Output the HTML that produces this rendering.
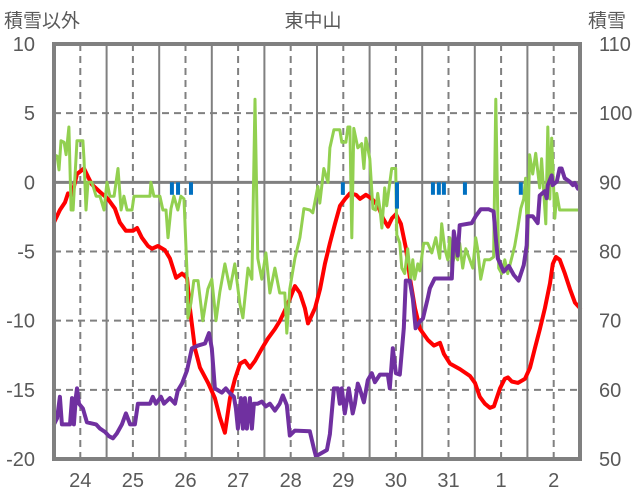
<!DOCTYPE html>
<html><head><meta charset="utf-8">
<style>
html,body{margin:0;padding:0;background:#fff;}
svg{display:block;font-family:"Liberation Sans","Noto Sans CJK JP",sans-serif;}
</style></head>
<body>
<svg id="chart" width="636" height="501" viewBox="0 0 636 501">
  <text x="4" y="27" font-size="19" fill="#595959">積雪以外</text>
  <text x="313" y="27" font-size="19" fill="#595959" text-anchor="middle">東中山</text>
  <text x="588" y="27" font-size="19" fill="#595959">積雪</text>
  <g id="grid"></g>
  <g id="series"></g>
  <g id="axes"></g>
</svg>
<script>
const dayLabels = ["24","25","26","27","28","29","30","31","1","2"];
const leftTicks = [10,5,0,-5,-10,-15,-20];
const rightTicks = [110,100,90,80,70,60,50];

const redHours = [0,2.7,5,6.4,8.2,10.5,13.7,15.5,17.3,21,24.6,27.8,30,32.8,36,37.9,40.1,42.9,44.7,47.4,50.6,52.9,55.7,58.4,60.7,62,64.3,66.6,70.3,73.4,75.7,78,80.3,82.6,84.9,87.1,89.4,91.7,94.9,97.6,100.8,103.1,105.8,107.7,109.9,112.2,114.5,115.9,119.1,121.4,123.6,125.9,128.2,130.5,132.8,135,137.8,139.6,142.3,145.1,147.8,150.1,152.4,154.2,156,158.3,160.6,162.4,164.7,167,170.6,173.4,176.1,177.9,180.7,185.2,189.8,192.1,194.3,196.6,198.9,200.7,203.5,205.7,207.1,208.9,211.7,214.9,217.2,219.4,221.7,224,226.3,227.6,229,230.8,233.1,235.4,237.7,240];
const redTemp = [-2.9,-2,-1.45,-0.8,-0.9,0.6,1.0,0.4,-0.15,-0.7,-1.2,-1.9,-2.9,-3.5,-3.5,-3.3,-4.0,-4.6,-4.8,-4.6,-4.9,-5.5,-6.9,-6.6,-6.9,-9.1,-12,-13.4,-14.5,-15.6,-17.0,-18.1,-15.6,-14.2,-13.1,-12.9,-13.4,-12.9,-12,-11.3,-10.6,-10,-9.1,-8.4,-7.5,-8.0,-9.1,-10.2,-9.1,-7.7,-5.9,-4.4,-3,-1.7,-1.2,-0.8,-0.9,-1.2,-0.9,-1.2,-1.7,-2.6,-3.2,-2.6,-2.3,-3.0,-4.8,-6.9,-9.1,-10.6,-11.4,-11.8,-11.6,-12.4,-13.1,-13.5,-14.0,-14.5,-15.5,-16,-16.3,-16.2,-14.9,-14.2,-14.1,-14.4,-14.5,-14.2,-13.4,-12,-10.6,-9.1,-7.3,-5.9,-5.4,-5.6,-6.6,-7.7,-8.7,-9.1];

const greenHours = [0,1.4,2.3,3.2,4.6,5.5,6.8,7.8,8.7,10.5,13.2,13.7,14.6,15.5,17.3,19.2,21,22.8,24.2,25.5,27.4,29.2,30.6,31.9,33.3,35.6,36.5,43.8,44.2,45.6,48.3,49.7,51.1,52,53.4,54.7,56.5,57.9,59.3,60.7,61.1,62.5,63.8,65.7,67.9,70.2,72,73.9,75.7,78,80.3,82.5,84.8,86.2,88.5,90.3,91.7,93,94.8,96.7,98.5,100.8,103,105.3,106.2,107.6,109.9,112.2,114,116.7,118.1,120.4,121.3,123.1,125,125.9,127.7,130.4,131.3,133.2,134.1,135,135.9,136.8,138.6,140.4,141.4,142.3,144.1,145.5,146.8,147.7,148.7,149.6,150.9,151.8,154.1,155.9,156.4,157.8,158.7,160,161.4,162.8,163.7,164.6,166,166.9,168.7,170.5,172.4,174.2,176,176.9,178.3,179.7,180.6,181.5,182.9,184.2,185.1,186.5,187.9,189.7,191.1,192.4,193.3,194.7,196.5,198.8,200.6,201.6,202.9,204.3,205.7,207,208.8,210.2,211.6,213,214.3,215.2,216.1,217,218.4,219.8,221.6,222.5,224.4,225.3,226.2,227.1,228.5,229.4,230.7,240];
const greenVals = [2,1.9,0.9,3,2.9,2,4,-2,-2,3,3,1.7,-2,0,0,-1,-1,-2,0,-1,-1,1,-2,-1,-2,-2,-1,-1,0,-1,-1,-2,-2,-4,-1.9,-1,-2,-1,-1.2,-6.5,-9.8,-8.7,-7.1,-7.1,-10,-7.7,-7,-10,-7.9,-5.9,-7.7,-5.9,-8.8,-9.8,-6.2,-7,6,-5.5,-7,-5.1,-8,-6.2,-8,-8,-10.9,-7.7,-5.5,-4,-1.9,-2,-2.2,-0.3,-1.5,1,0,2.5,3.8,3.8,2.9,2.9,4,4,-4,3.9,2.5,2.8,1,3.2,1.7,-1.9,-2,-0.8,-1.9,-3.3,-0.4,-1.7,1,1,-3.8,-4.4,-6.2,-6.6,-4.8,-7,-5.6,-7,-5.9,-6.4,-4.4,-4.4,-5.1,-4,-5.5,-3,-4.8,-5.6,-4,-6.2,-5.1,-5.6,-4.4,-6.2,-4.8,-5.6,-6.2,-4,-4.8,-7,-5.6,-5.6,-5.4,6,-6.2,-6.6,-5.6,-6.6,-5.5,-4.6,-3.3,-1.9,-1.2,0.3,-4.8,2,0.6,2.1,-0.4,1.7,-3,4,-1.2,3.2,-2.6,-0.8,-2,-2];

const snowHours = [0,1.4,2.7,3.6,7.3,8.2,9.1,10,10.5,11.4,13.2,15,19.2,21,23.3,25.1,26.9,28.7,31,32.8,34.7,36.9,38.3,43.8,45.1,46.5,48.8,50.2,52.9,55.2,56.5,58.4,60.7,62.9,65.7,68.9,70.7,72,73.4,76.6,78.4,80.3,82.1,83,83.9,85.3,86.2,87.1,88,89.4,90.3,91.2,93,94.8,96.7,98.5,100.8,103,104.4,106.2,107.6,109.9,116.7,118.6,119.5,124.5,125.9,127.7,129.5,130.4,131.3,132.7,134.5,136.3,137.3,138.6,139.5,141.4,143.2,145,146.4,148.7,152.3,153.2,154.6,156,157.8,159.6,160.5,162.3,163.7,165,166.9,168.3,170.5,171.5,173.7,181.5,182.4,184.2,185.1,190.6,192.4,194.7,198.4,200.6,201.6,202.5,205.2,207.5,209.8,212,214.3,215.7,216.1,218.4,220.7,221.6,223.9,224.8,225.3,227.1,227.5,229.4,230.7,231.6,233,235.3,236.7,237.6,238.5,239];
const snowDepth = [55,55.9,59,55,55,58.8,55,59,60.2,58,57.3,55.3,55,54.4,53.9,53.3,53,53.7,55,56.6,55,55,58,58,59,58,59,58,58.8,58,59.9,60.9,62.8,66,66.4,66.7,68.2,66,60.2,59.6,60.2,59.5,59,57.3,54.4,58.8,54.4,58.8,54.4,58.8,54.4,58,58,58.3,57.6,58,57,58,59.2,57.8,53.4,54.1,54,51.5,50.4,51.3,53.6,60.2,60.2,58,60.2,56.6,60.2,56.6,58,60.9,60.2,58.2,61.4,62.4,61.1,62.2,62.2,60.2,66,62.4,62.2,68.9,75.8,75.8,73.2,68.9,69.9,70.3,73.2,74.7,76.1,76.1,82.9,79.4,83.8,84.1,85.1,86.1,86.1,85.8,81.9,79,77.1,77.9,76.6,75.8,78,80.9,85.1,85.1,84.1,88.1,88.7,87.7,89.6,91,89.6,90.1,92,92,90.6,90.1,89.6,89.9,89.4,89.1];

const precipHours = [53.8,56.6,62.5,131.8,156.5,172.9,175.6,177.9,187.5,213];
const precipVals = [0.9,0.9,0.9,0.9,1.9,0.9,0.9,0.9,0.9,0.9];

const L=54, R=580, T=44, B=459;
const xScale = h => L + (R-L)*h/240;
const yLeft = v => T + (10 - v)*(B-T)/30;
const yRight = v => T + (110 - v)*(B-T)/60;
const NS="http://www.w3.org/2000/svg";
function mk(tag, attrs, parent){ const e=document.createElementNS(NS,tag); for(const k in attrs) e.setAttribute(k,attrs[k]); parent.appendChild(e); return e; }
const grid=document.getElementById('grid'), series=document.getElementById('series'), axes=document.getElementById('axes');

// vertical grid
for(let d=0; d<dayLabels.length; d++){
  if(d>0){
    const v=mk('line',{x1:xScale(d*24),x2:xScale(d*24),y1:T,y2:B,stroke:'#808080','stroke-width':2},grid);
    
    
  }
  const n=mk('line',{x1:xScale(d*24+12),x2:xScale(d*24+12),y1:T,y2:B,stroke:'#808080','stroke-width':2,'stroke-dasharray':'7,5'},grid);
  
  
  const t=mk('text',{x:xScale(d*24+12),y:487,'font-size':20,fill:'#595959','text-anchor':'middle'},axes);
  t.textContent=dayLabels[d];
  
  
}
// horizontal grid + ticks
leftTicks.forEach((v,i)=>{
  const y=yLeft(v);
  if(v!==10 && v!==-20 && v!==0){
    const g=mk('line',{x1:L,x2:R,y1:y,y2:y,stroke:'#808080','stroke-width':2,'stroke-dasharray':'7,5'},grid);
    
    
  }
  const t=mk('text',{x:35,y:y+7,'font-size':20,fill:'#595959','text-anchor':'end'},axes);
  t.textContent=v;
  
  
  const t2=mk('text',{x:599,y:yRight(rightTicks[i])+7,'font-size':20,fill:'#595959'},axes);
  t2.textContent=rightTicks[i];
  
  
});
const zl=mk('line',{x1:L,x2:R,y1:yLeft(0),y2:yLeft(0),stroke:'#808080','stroke-width':3},grid);



function line(hs, vs, ys, color, w, name){
  const p=mk('polyline',{points:hs.map((h,i)=>xScale(h).toFixed(1)+','+ys(vs[i]).toFixed(1)).join(' '),fill:'none',stroke:color,'stroke-width':w,'stroke-linejoin':'round','stroke-linecap':'round'},series);
  
  
}
line(redHours, redTemp, yLeft, '#ff0000', 4, 'temperature-line');
line(greenHours, greenVals, yLeft, '#92d050', 3, 'green-series-line');
line(snowHours, snowDepth, yRight, '#7030a0', 4, 'snow-depth-line');
precipHours.forEach((h,i)=>{
  const b=mk('rect',{x:xScale(h)-2,y:yLeft(0),width:4,height:yLeft(-precipVals[i])-yLeft(0),fill:'#0070c0'},series);
  
  
});
const fr=mk('rect',{x:L,y:T,width:R-L,height:B-T,fill:'none',stroke:'#808080','stroke-width':4},axes);


</script>
</body></html>
